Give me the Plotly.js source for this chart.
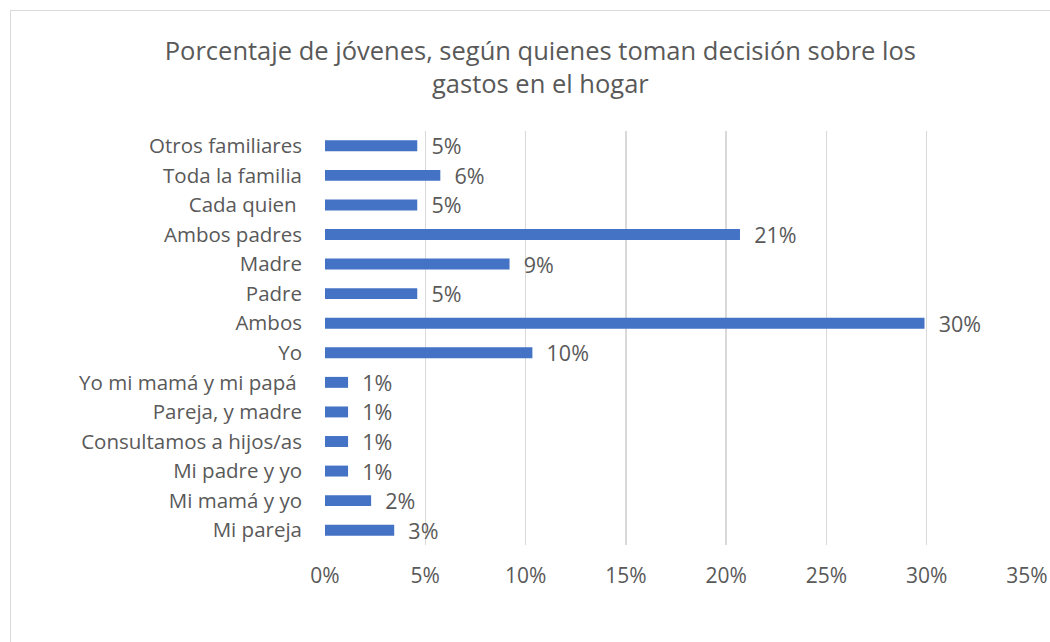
<!DOCTYPE html>
<html>
<head>
<meta charset="utf-8">
<script src="https://cdn.plot.ly/plotly-3.0.1.min.js"></script>
<style>
html,body{margin:0;padding:0;background:#fff;overflow:hidden;}
#wrap{position:absolute;left:10px;top:10px;width:1045px;height:640px;border-left:1px solid #d9d9d9;border-top:1px solid #d9d9d9;}
#chart{width:1040px;height:632px;}
</style>
</head>
<body>
<div id="wrap"><div id="chart"></div></div>
<script>
const categories = ["Otros familiares","Toda la familia","Cada quien ","Ambos padres","Madre","Padre","Ambos","Yo","Yo mi mamá y mi papá ","Pareja, y madre","Consultamos a hijos/as","Mi padre y yo","Mi mamá y yo","Mi pareja"];
const values = [4.6, 5.75, 4.6, 20.69, 9.2, 4.6, 29.89, 10.34, 1.15, 1.15, 1.15, 1.15, 2.3, 3.45];
const tickVals = [0,5,10,15,20,25,30,35];
const tickLabels = ["0%","5%","10%","15%","20%","25%","30%","35%"];

const font = "'Open Sans', sans-serif";
const gray = "#595959";

Plotly.newPlot("chart", [{
  type: "bar",
  orientation: "h",
  y: categories,
  x: values,
  marker: {color: "#4472C4"},
  width: 0.37,
  text: values.map(v => Math.round(v) + "%"),
  texttemplate: "  %{text}",
  textposition: "outside",
  constraintext: "none",
  cliponaxis: false,
  textfont: {family: font, size: 21.5, color: gray},
  hoverinfo: "skip"
}], {
  width: 1040, height: 632,
  margin: {l: 313.5, r: 24, t: 120, b: 98},
  paper_bgcolor: "#fff",
  plot_bgcolor: "#fff",
  showlegend: false,
  title: {
    text: "Porcentaje de jóvenes, según quienes toman decisión sobre los<br>gastos en el hogar",
    font: {family: font, size: 25.5, color: gray},
    x: 0.509, xanchor: "center",
    yref: "container", y: 0.922, yanchor: "middle"
  },
  xaxis: {
    range: [0, 35],
    tickvals: tickVals,
    ticktext: tickLabels,
    showgrid: true,
    gridcolor: "#d9d9d9",
    gridwidth: 1.5,
    zeroline: false,
    showline: false,
    ticks: "",
    ticklabelstandoff: 16,
    tickfont: {family: font, size: 21, color: gray},
    fixedrange: true
  },
  yaxis: {
    type: "category",
    autorange: "reversed",
    showgrid: false,
    zeroline: false,
    showline: false,
    ticks: "",
    ticklabelstandoff: 22,
    tickfont: {family: font, size: 20.5, color: gray},
    fixedrange: true
  }
}, {displayModeBar: false, staticPlot: true});
</script>
</body>
</html>
